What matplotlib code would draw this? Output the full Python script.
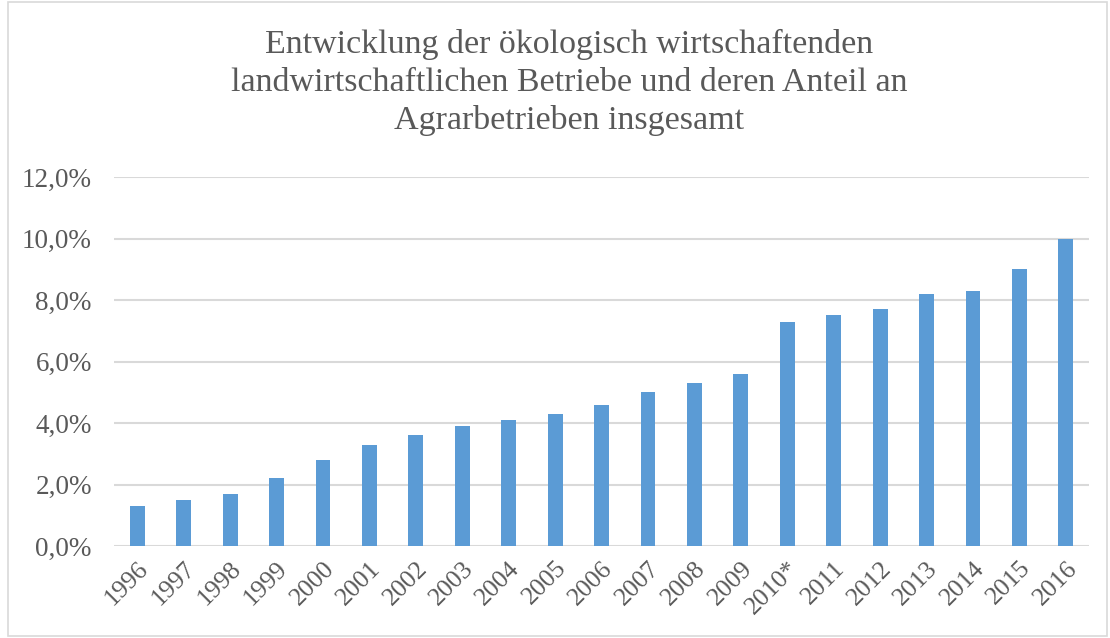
import matplotlib
matplotlib.use("Agg")
import matplotlib.pyplot as plt
from matplotlib.ticker import FuncFormatter
from matplotlib.patches import Rectangle

# Data
years = ["1996", "1997", "1998", "1999", "2000", "2001", "2002", "2003", "2004",
         "2005", "2006", "2007", "2008", "2009", "2010*", "2011", "2012", "2013",
         "2014", "2015", "2016"]
share = [1.3, 1.5, 1.7, 2.2, 2.8, 3.3, 3.6, 3.9, 4.1, 4.3, 4.6, 5.0, 5.3, 5.6,
         7.3, 7.5, 7.7, 8.2, 8.3, 9.0, 10.0]
y_ticks = [0, 2, 4, 6, 8, 10, 12]

title = ("Entwicklung der ökologisch wirtschaftenden\n"
         "landwirtschaftlichen Betriebe und deren Anteil an\n"
         "Agrarbetrieben insgesamt")

plt.rcParams['font.family'] = ['Liberation Serif', 'DejaVu Serif']

fig = plt.figure(figsize=(11.1, 6.38), dpi=100)
ax = fig.add_axes([114 / 1110, 1 - 546 / 638, 975 / 1110, 369 / 638])

x = range(len(years))
ax.bar(x, share, width=0.32, color="#5B9BD5", zorder=3)

ax.set_xlim(-0.5, len(years) - 0.5)
ax.set_ylim(0, 12)
ax.set_yticks(y_ticks)
ax.yaxis.set_major_formatter(FuncFormatter(lambda v, p: f"{v:.1f}%".replace(".", ",")))
ax.set_xticks(list(x))
ax.set_xticklabels(years, rotation=45, ha="right", rotation_mode="anchor")

ax.grid(axis="y", color="#D9D9D9", linewidth=1.5, zorder=0)
for s in ax.spines.values():
    s.set_visible(False)
ax.tick_params(length=0, labelsize=19.5, colors="#595959")
ax.tick_params(axis="y", pad=16)
ax.tick_params(axis="x", pad=8, labelsize=18.5)

fig.text(0.513, 1 - 29 / 638, title, ha="center", va="top", fontsize=24.5,
         color="#595959", linespacing=1.3)

# light frame around the chart
fig.patches.append(Rectangle((0.007, 0.003), 0.99, 0.994, transform=fig.transFigure,
                             fill=False, edgecolor="#D9D9D9", linewidth=1.2))

fig.savefig("out.png", dpi=100)
